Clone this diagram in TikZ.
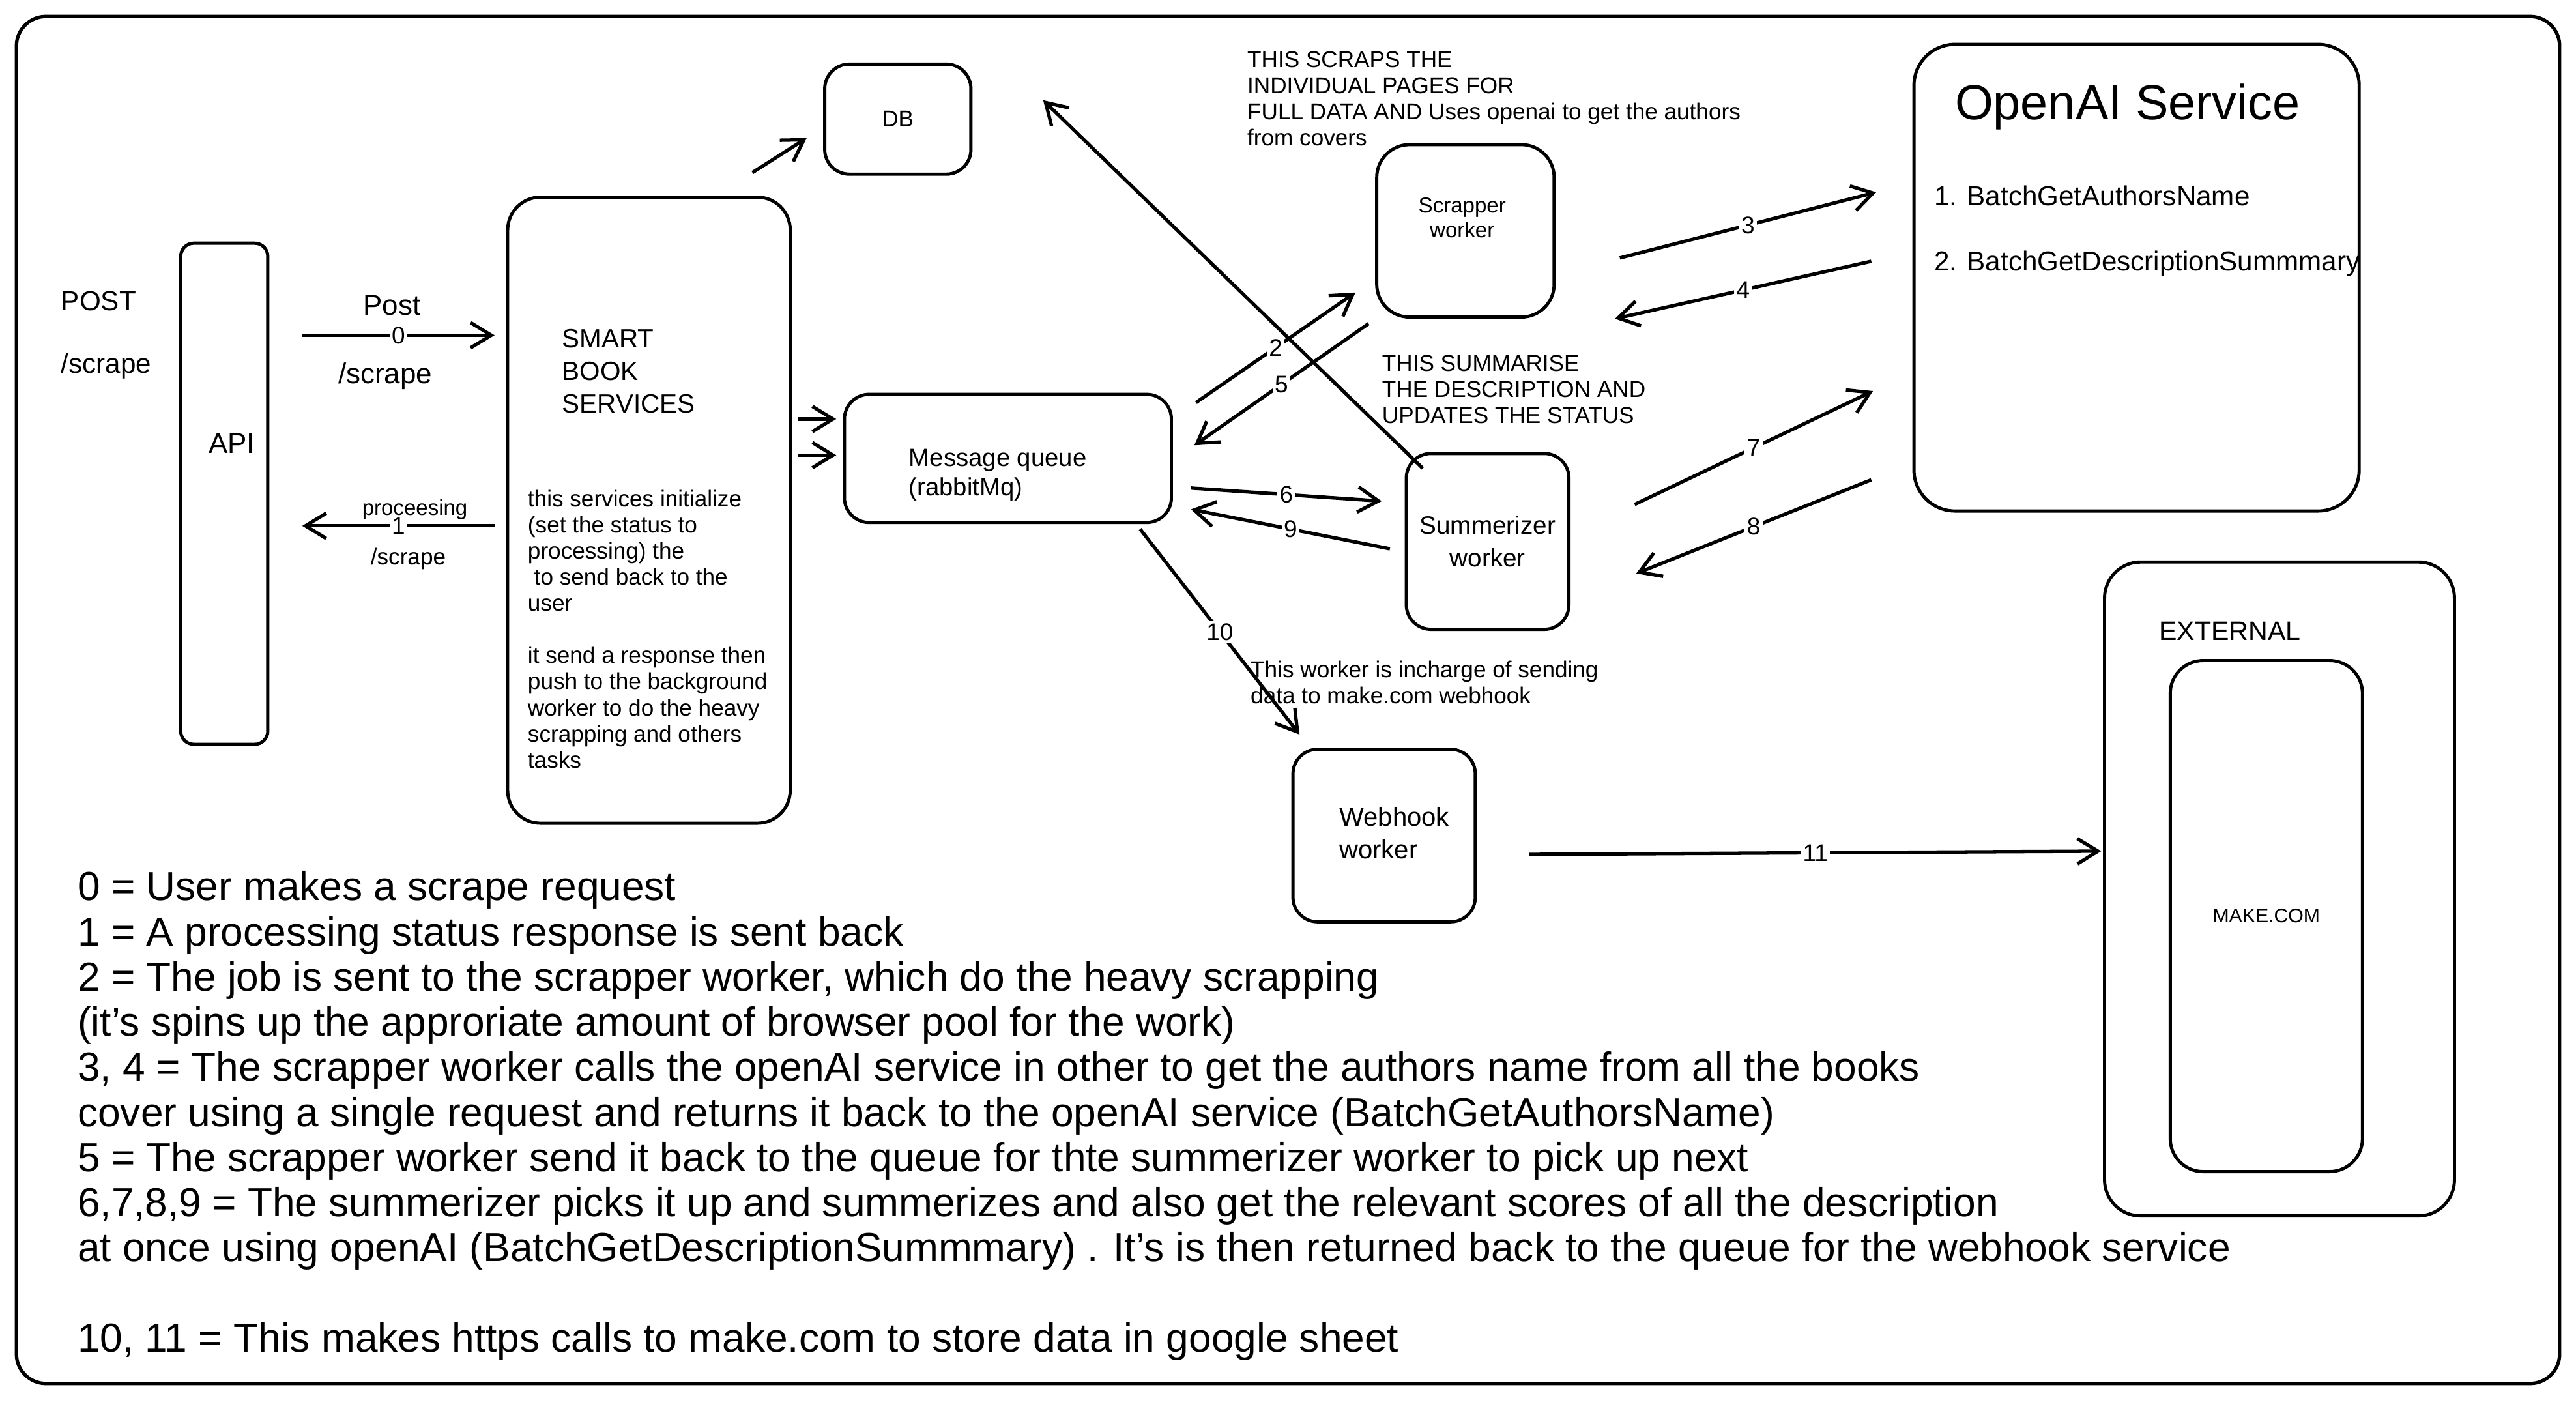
\documentclass[tikz,border=0pt]{standalone}
\usepackage{fontspec}
\setmainfont{Liberation Sans}
\usetikzlibrary{calc,arrows.meta}
\newlength{\unitpx}
\setlength{\unitpx}{0.02521cm}

\begin{document}
\begin{tikzpicture}[x=0.02521cm, y=-0.02521cm,
     block/.style = {draw, line width=1.4pt, inner sep=0pt, rounded corners=15\unitpx},
     txt/.style = {inner sep=0pt, align=left},
     note/.style = {txt, anchor=north west, font=\fontsize{10}{11.4}\selectfont},
     arrow/.style = {draw, line width=1.5pt, -{Straight Barb[length=9pt,width=11pt]}},
     num/.style = {fill=white, inner sep=1pt, font=\fontsize{10.5}{12}\selectfont}
    ]
    \useasboundingbox (0,0) rectangle (1568,869);
    \draw[line width=1.5pt, rounded corners=18\unitpx] (10,10) rectangle (1558,842);

    \node[block, rounded corners=8\unitpx, minimum width=53\unitpx, minimum height=305\unitpx] (api) at (136.5,300.5) {};
    \node[block, rounded corners=20\unitpx, minimum width=172\unitpx, minimum height=381\unitpx] (sbs) at (395,310.5) {};
    \node[block, minimum width=89\unitpx, minimum height=67\unitpx, font=\fontsize{10}{12}\selectfont] (db) at (546.5,72.5) {DB};
    \node[block, minimum width=199\unitpx, minimum height=78\unitpx] (mq) at (613.5,279) {};
    \node[block, rounded corners=20\unitpx, minimum width=108\unitpx, minimum height=105\unitpx] (scr) at (892,140.5) {};
    \node[block, minimum width=99\unitpx, minimum height=107\unitpx, align=center, font=\fontsize{11}{14.3}\selectfont] (sum) at (905.5,329.5) {Summerizer\\worker};
    \node[block, minimum width=111\unitpx, minimum height=105\unitpx] (web) at (842.5,508.5) {};
    \node[block, rounded corners=25\unitpx, minimum width=271\unitpx, minimum height=284\unitpx] (oai) at (1300.5,169) {};
    \node[block, rounded corners=22\unitpx, minimum width=213\unitpx, minimum height=398\unitpx] (ext) at (1387.5,541) {};
    \node[block, rounded corners=20\unitpx, minimum width=117\unitpx, minimum height=311\unitpx, font=\fontsize{8.6}{10}\selectfont] (make) at (1379.5,557.5) {MAKE.COM};

    \node[txt, anchor=base west, font=\fontsize{12}{14}\selectfont] (post) at (37,189) {POST};
    \node[txt, anchor=base west, font=\fontsize{12}{14}\selectfont] (route) at (37,227) {/scrape};
    \node[font=\fontsize{12.5}{15}\selectfont] (apitxt) at (141,270) {API};
    \node[txt, anchor=north west, font=\fontsize{11.5}{14.3}\selectfont] (sbstitle) at (342,200) {SMART\\BOOK\\SERVICES};
    \node[note] (sbsnote) at (321,298) {this services initialize\\(set the status to\\processing) the\\~to send back to the\\user\\[11.4pt]it send a response then\\push to the background\\worker to do the heavy\\scrapping and others\\tasks};
    \node[txt, anchor=west, font=\fontsize{10.9}{12.9}\selectfont] (mqtxt) at (553,289) {Message queue\\(rabbitMq)};
    \node[align=center, inner sep=0pt, font=\fontsize{9.4}{10.7}\selectfont] (scrtxt) at (890,132.5) {Scrapper\\worker};
    \node[txt, anchor=west, font=\fontsize{11.4}{14.3}\selectfont] (webtxt) at (815,507) {Webhook\\worker};
    \node[note] (scrnote) at (759,31) {THIS SCRAPS THE\\INDIVIDUAL PAGES FOR\\FULL DATA AND Uses openai to get the authors\\from covers};
    \node[note] (sumnote) at (841,216) {THIS SUMMARISE\\THE DESCRIPTION AND\\UPDATES THE STATUS};
    \node[note] (webnote) at (761,402) {This worker is incharge of sending\\data to make.com webhook};
    \node[font=\fontsize{21.5}{25}\selectfont] (oaititle) at (1295,65) {OpenAI Service};
    \node[txt, anchor=base west, font=\fontsize{12}{14}\selectfont] (fn1) at (1177,125) {1. BatchGetAuthorsName};
    \node[txt, anchor=base west, font=\fontsize{12}{14}\selectfont] (fn2) at (1177,165) {2. BatchGetDescriptionSummmary};
    \node[txt, anchor=west, font=\fontsize{11.7}{14}\selectfont] (exttxt) at (1314,384) {EXTERNAL};
    \node[txt, anchor=north west, font=\fontsize{17.7}{19.7}\selectfont] (legend) at (47,530) {0 = User makes a scrape request\\
1 = A processing status response is sent back\\
2 = The job is sent to the scrapper worker, which do the heavy scrapping\\
(it's spins up the approriate amount of browser pool for the work)\\
3, 4 = The scrapper worker calls the openAI service in other to get the authors name from all the books\\
cover using a single request and returns it back to the openAI service (BatchGetAuthorsName)\\
5 = The scrapper worker send it back to the queue for thte summerizer worker to pick up next\\
6,7,8,9 = The summerizer picks it up and summerizes and also get the relevant scores of all the description\\
at once using openAI (BatchGetDescriptionSummmary) . It's is then returned back to the queue for the webhook service\\[19.7pt]
10, 11 = This makes https calls to make.com to store data in google sheet};

    \draw[arrow] ($(api.north east)+(20,57)$) -- node[num] {0} node[font=\fontsize{12.5}{15}\selectfont, yshift=18\unitpx, xshift=-4\unitpx] {Post} node[font=\fontsize{12.5}{15}\selectfont, yshift=-25\unitpx, xshift=-8\unitpx] {/scrape} ($(sbs.north west)+(-7,85)$);
    \draw[arrow] ($(sbs.north west)+(-7,201)$) -- node[num] {1} node[font=\fontsize{9.4}{11}\selectfont, yshift=10\unitpx, xshift=10\unitpx] {proceesing} node[font=\fontsize{10}{12}\selectfont, yshift=-20\unitpx, xshift=6\unitpx] {/scrape} ($(api.north east)+(20,173)$);
    \draw[arrow] ($(sbs.north east)+(-24,-14)$) -- ($(db.west)+(-10,11.5)$);
    \draw[arrow] ($(sbs.east)+(4,-55.5)$) -- ($(mq.west)+(-4,-24)$);
    \draw[arrow] ($(sbs.east)+(4,-33.5)$) -- ($(mq.west)+(-4,-2)$);
    \draw[arrow] ($(sum.north west)+(11,10)$) -- ($(db.east)+(43,-11.5)$);
    \draw[arrow] ($(mq.east)+(14,-34)$) -- node[num] {2} ($(scr.west)+(-12,37.5)$);
    \draw[arrow] ($(scr.south west)+(-4,3)$) -- node[num] {5} ($(mq.east)+(13,-8)$);
    \draw[arrow] ($(mq.east)+(11,18)$) -- node[num] {6} ($(sum.west)+(-14,-24.5)$);
    \draw[arrow] ($(sum.west)+(-9,4.5)$) -- node[num] {9} ($(mq.east)+(11,31)$);
    \draw[arrow] ($(mq.south east)+(-20,3)$) -- node[num] {10} ($(web.north)+(-51.5,-8)$);
    \draw[arrow] ($(scr.east)+(39,16.5)$) -- node[num] {3} ($(oai.west)+(-22,-52)$);
    \draw[arrow] ($(oai.west)+(-25,-10)$) -- node[num] {4} ($(scr.east)+(36,53.5)$);
    \draw[arrow] ($(sum.east)+(39,-22.5)$) -- node[num] {7} ($(oai.west)+(-24,69)$);
    \draw[arrow] ($(oai.west)+(-25,123)$) -- node[num] {8} ($(sum.east)+(40,19.5)$);
    \draw[arrow] ($(web.east)+(32,11.5)$) -- node[num] {11} ($(ext.west)+(-1,-23)$);

\end{tikzpicture}
\end{document}
